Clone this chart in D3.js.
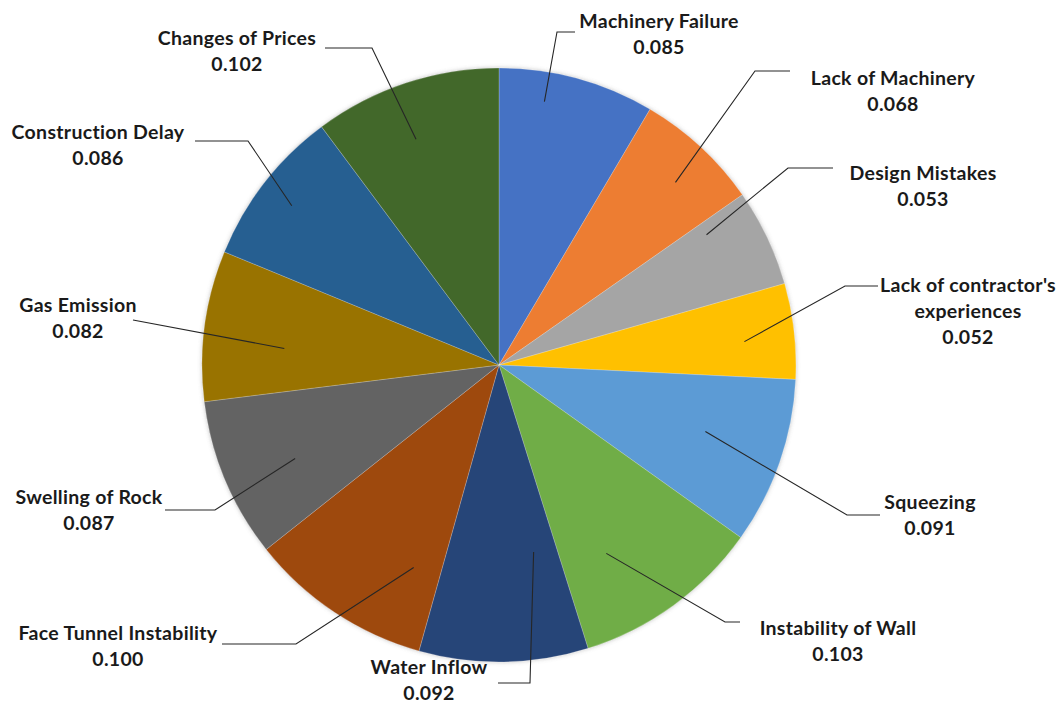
<!DOCTYPE html>
<html>
<head>
<meta charset="utf-8">
<script src="https://cdn.jsdelivr.net/npm/d3@7/dist/d3.min.js"></script>
<style>
  html, body { margin: 0; padding: 0; background: #fff; }
  svg { display: block; }
  .lbl { font-family: Lato, "Open Sans", sans-serif; font-weight: 700; font-size: 19.5px; letter-spacing: 0.3px; fill: #1a1a1a; }
</style>
</head>
<body>
<div id="chart"></div>
<script>
// Risk factors and their weights, clockwise from 12 o'clock
const categories = [
  "Machinery Failure", "Lack of Machinery", "Design Mistakes",
  "Lack of contractor's experiences", "Squeezing", "Instability of Wall",
  "Water Inflow", "Face Tunnel Instability", "Swelling of Rock",
  "Gas Emission", "Construction Delay", "Changes of Prices"
];
const values = [0.085, 0.068, 0.053, 0.052, 0.091, 0.103, 0.092, 0.100, 0.087, 0.082, 0.086, 0.102];
const valueLabels = ["0.085", "0.068", "0.053", "0.052", "0.091", "0.103", "0.092", "0.100", "0.087", "0.082", "0.086", "0.102"];
const colors = ["#4472C4", "#ED7D31", "#A5A5A5", "#FFC000", "#5B9BD5", "#70AD47",
                "#264478", "#9E480E", "#636363", "#997300", "#255E91", "#43682B"];

// Category text split into display lines
const nameLines = [
  ["Machinery Failure"], ["Lack of Machinery"], ["Design Mistakes"],
  ["Lack of contractor's", "experiences"], ["Squeezing"], ["Instability of Wall"],
  ["Water Inflow"], ["Face Tunnel Instability"], ["Swelling of Rock"],
  ["Gas Emission"], ["Construction Delay"], ["Changes of Prices"]
];

// Label placement relative to the pie centre:
// label centre x, first-line centre y, leader start (fraction across slice, radius factor),
// leader elbow [x, y] and leader end x.
const labelLayout = [
  { x: 160,  y: -344, t: 0.32, rf: 0.90,  elbow: [58, -333],   endX: 76 },
  { x: 394,  y: -287, t: 0.55, rf: 0.855, elbow: [256, -294],  endX: 291 },
  { x: 424,  y: -192, t: 0.15, rf: 0.825, elbow: [289, -197],  endX: 334 },
  { x: 469,  y: -80,  t: 0.56, rf: 0.83,  elbow: [346, -79],   endX: 379 },
  { x: 431,  y: 137,  t: 0.46, rf: 0.73,  elbow: [348, 150],   endX: 381 },
  { x: 339,  y: 263,  t: 0.67, rf: 0.73,  elbow: [226, 257],   endX: 241 },
  { x: -70,  y: 302,  t: 0.21, rf: 0.64,  elbow: [31, 318],    endX: -1 },
  { x: -381, y: 268,  t: 0.20, rf: 0.74,  elbow: [-203, 279],  endX: -277 },
  { x: -410, y: 132,  t: 0.44, rf: 0.755, elbow: [-284, 145],  endX: -334 },
  { x: -421, y: -60,  t: 0.39, rf: 0.725, elbow: [-366, -45],  endX: -366 },
  { x: -401, y: -233, t: 0.49, rf: 0.88,  elbow: [-251, -224], endX: -304 },
  { x: -262, y: -327, t: 0.45, rf: 0.81,  elbow: [-127, -317], endX: -174 }
];

const W = 1063, H = 704;
const cx = 499, cy = 365, R = 297;
const lineH = 26;

const svg = d3.select("#chart").append("svg").attr("width", W).attr("height", H);

const defs = svg.append("defs");
const shadow = defs.append("filter").attr("id", "pieShadow")
  .attr("x", "-10%").attr("y", "-10%").attr("width", "120%").attr("height", "120%");
shadow.append("feDropShadow")
  .attr("dx", 0).attr("dy", 0).attr("stdDeviation", 2.2)
  .attr("flood-color", "#777").attr("flood-opacity", 0.45);

const data = categories.map((c, i) => ({ name: c, value: values[i], i }));
const pie = d3.pie().value(d => d.value).sort(null);
const arcs = pie(data);
const arc = d3.arc().innerRadius(0).outerRadius(R);

const g = svg.append("g").attr("transform", `translate(${cx},${cy})`);

g.append("g").attr("filter", "url(#pieShadow)")
  .selectAll("path")
  .data(arcs)
  .join("path")
  .attr("d", arc)
  .attr("fill", d => colors[d.data.i])
  .attr("stroke", "#ffffff")
  .attr("stroke-opacity", 0.35)
  .attr("stroke-width", 0.6);

// Leader lines
const leaders = g.append("g");
arcs.forEach((a, i) => {
  const L = labelLayout[i];
  const ang = a.startAngle + (a.endAngle - a.startAngle) * L.t;
  const r = R * L.rf;
  const sx = Math.sin(ang) * r, sy = -Math.cos(ang) * r;
  const pts = [[sx, sy], L.elbow, [L.endX, L.elbow[1]]];
  leaders.append("path")
    .attr("d", d3.line()(pts))
    .attr("fill", "none")
    .attr("stroke", "#262626")
    .attr("stroke-width", 1.1);
});

// Data labels: category name then value
const labels = g.append("g");
arcs.forEach((a, i) => {
  const L = labelLayout[i];
  const lines = nameLines[i].concat([valueLabels[i]]);
  const t = labels.append("text").attr("class", "lbl").attr("text-anchor", "middle");
  lines.forEach((s, k) => {
    t.append("tspan")
      .attr("x", L.x)
      .attr("y", L.y + k * lineH)
      .attr("dy", "0.36em")
      .text(s);
  });
});
</script>
</body>
</html>
